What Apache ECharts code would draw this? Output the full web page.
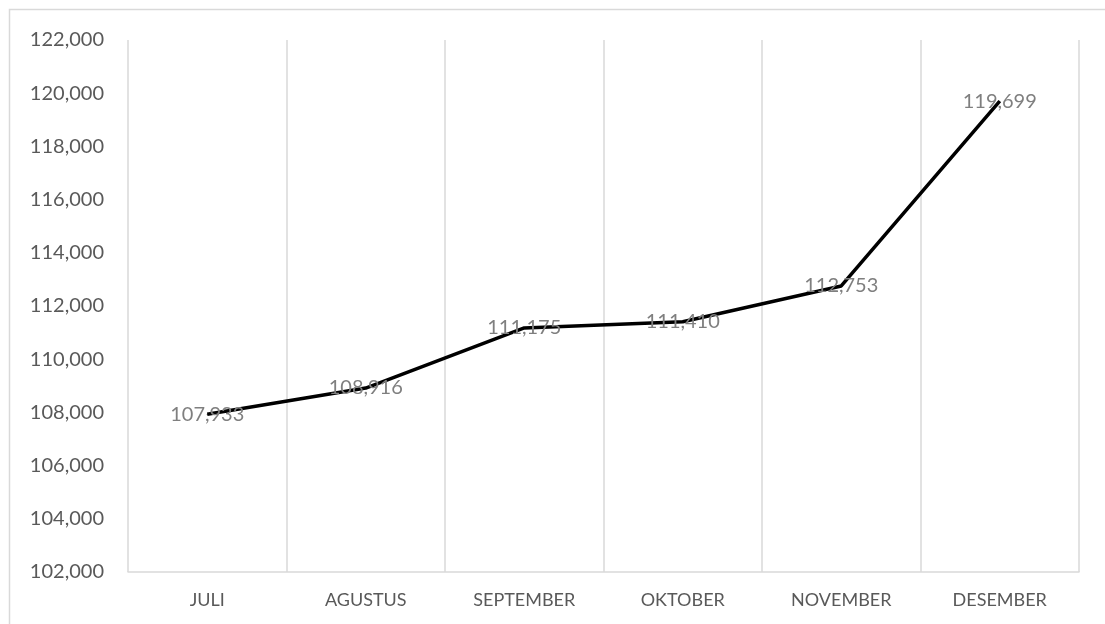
<!DOCTYPE html>
<html>
<head>
<meta charset="utf-8">
<script src="https://cdn.jsdelivr.net/npm/echarts@6/dist/echarts.min.js"></script>
<style>
html,body{margin:0;padding:0;background:#fff;}
#c{width:1105px;height:624px;}
</style>
</head>
<body>
<div id="c"></div>
<script>
const categories = ['JULI', 'AGUSTUS', 'SEPTEMBER', 'OKTOBER', 'NOVEMBER', 'DESEMBER'];
const values = [107933, 108916, 111175, 111410, 112753, 119699];
const yMin = 102000, yMax = 122000, yStep = 2000;

const chart = echarts.init(document.getElementById('c'));
const fmt = v => v.toLocaleString('en-US');
chart.setOption({
  animation: false,
  backgroundColor: '#fff',
  graphic: [{
    type: 'rect', silent: true,
    shape: {x: 9.5, y: 9.5, width: 1200, height: 700},
    style: {fill: 'none', stroke: '#d9d9d9', lineWidth: 1.5}
  }],
  grid: {left: 128, right: 26, top: 40, bottom: 52},
  xAxis: {
    type: 'category',
    data: categories,
    boundaryGap: true,
    axisLine: {show: true, lineStyle: {color: '#d9d9d9', width: 1.5}},
    axisTick: {show: false},
    splitLine: {show: true, lineStyle: {color: '#d9d9d9', width: 1.5}},
    axisLabel: {color: '#595959', fontFamily: 'Lato', fontSize: 18, margin: 19}
  },
  yAxis: {
    type: 'value',
    min: yMin, max: yMax, interval: yStep,
    axisLine: {show: false},
    axisTick: {show: false},
    splitLine: {show: false},
    axisLabel: {color: '#595959', fontFamily: 'Lato', fontSize: 20, margin: 24, formatter: fmt}
  },
  series: [{
    type: 'line',
    data: values,
    symbol: 'circle',
    symbolSize: 1,
    itemStyle: {color: '#000'},
    lineStyle: {color: '#000', width: 3.5},
    label: {
      show: true,
      position: 'inside',
      color: '#7f7f7f',
      fontFamily: 'Lato',
      fontSize: 20,
      formatter: p => fmt(p.value)
    }
  }]
});
</script>
</body>
</html>
